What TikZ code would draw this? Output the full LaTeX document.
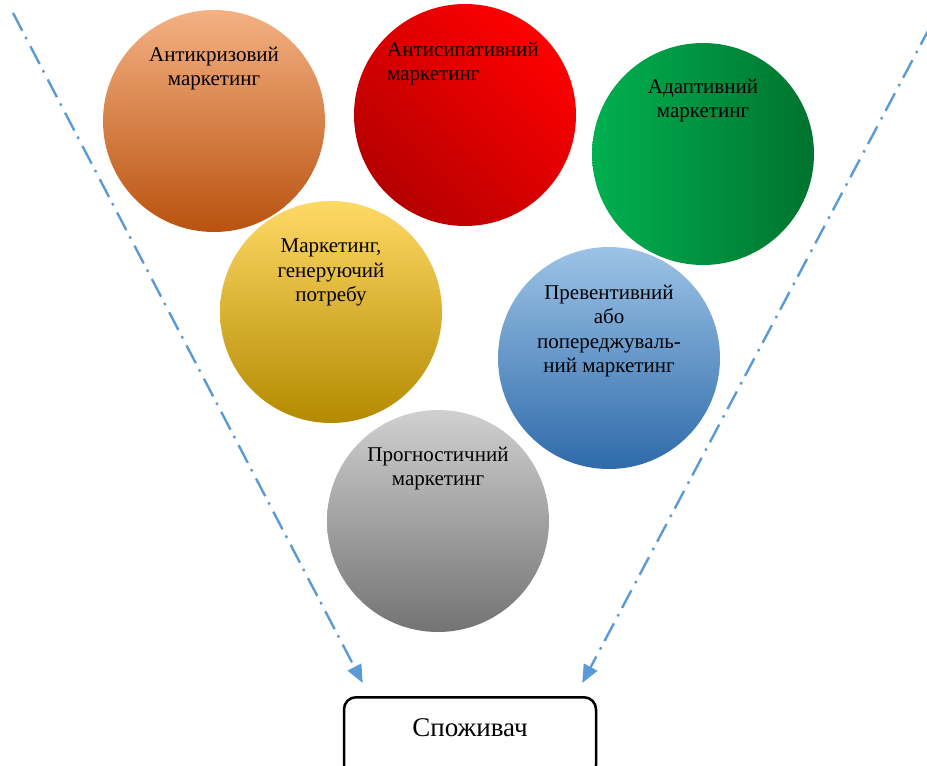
\documentclass[tikz,border=0pt]{standalone}
\usepackage{fontspec}
\setmainfont{Liberation Serif}
\usetikzlibrary{positioning, arrows.meta}
\definecolor{orangeT}{HTML}{F4B183}
\definecolor{orangeM}{HTML}{ED7D31}
\definecolor{orangeB}{HTML}{B9520F}
\definecolor{redB}{HTML}{FF0000}
\definecolor{redD}{HTML}{B50000}
\definecolor{greenL}{HTML}{00B050}
\definecolor{greenD}{HTML}{00732E}
\definecolor{yellowT}{HTML}{FFD966}
\definecolor{yellowM}{HTML}{FFC000}
\definecolor{yellowB}{HTML}{B38A00}
\definecolor{blueT}{HTML}{9DC3E6}
\definecolor{blueM}{HTML}{5B9BD5}
\definecolor{blueB}{HTML}{2E6BAA}
\definecolor{greyT}{HTML}{D0D0D0}
\definecolor{greyB}{HTML}{737373}
\definecolor{lineblue}{HTML}{5B9BD5}
\tikzset{bubble/.style={circle,minimum size=222pt,inner sep=0pt},
         bubtext/.style={align=center,inner sep=0pt,font=\fontsize{21}{24.5}\selectfont},
         funnel/.style={draw=lineblue,line width=2.4pt,dash pattern=on 20pt off 7pt on 2.5pt off 8pt,
                        -{Triangle[length=18pt,width=15pt]}},
         consumer/.style={draw,rounded corners=12pt,line width=2.5pt,minimum width=252pt,
                          minimum height=80pt,text height=19pt,text depth=21pt,
                          font=\fontsize{27}{30}\selectfont},
        }

\begin{document}
\begin{tikzpicture}[x=1pt,y=-1pt]
        \useasboundingbox (0,0) rectangle (927,766);

        \node[bubble,top color=orangeT,middle color=orangeM,bottom color=orangeB](anticr)at(214,121){};
        \node[bubble,top color=redB,bottom color=redD,shading angle=-45](antisip)at(465,115){};
        \node[bubble,left color=greenL,right color=greenD](adapt)at(703,154){};
        \node[bubble,top color=yellowT,middle color=yellowM,bottom color=yellowB](gener)at(331,312){};
        \node[bubble,top color=blueT,middle color=blueM,bottom color=blueB](prevent)at(609,358){};
        \node[bubble,top color=greyT,bottom color=greyB](prognos)at(438,521){};

        \node[bubtext,below=37pt of anticr.north](anticrT){Антикризовий\\маркетинг};
        \node[bubtext,align=left,anchor=north west](antisipT)at([shift={(-78,38)}]antisip.north){Антисипативний\\маркетинг};
        \node[bubtext,below=36pt of adapt.north](adaptT){Адаптивний\\маркетинг};
        \node[bubtext,below=38pt of gener.north](generT){Маркетинг,\\генеруючий\\потребу};
        \node[bubtext,below=38pt of prevent.north](preventT){Превентивний\\або\\попереджуваль-\\ний маркетинг};
        \node[bubtext,below=37pt of prognos.north](prognosT){Прогностичний\\маркетинг};

        \node[consumer,anchor=north](cons)at(470,696){Споживач};

        \coordinate(lstart)at(13,13);
        \coordinate(rstart)at(930,27);
        \coordinate(ltip)at([shift={(20,-13)}]cons.north west);
        \coordinate(rtip)at([shift={(-15,-13)}]cons.north east);

        \draw[funnel](lstart)--(ltip);
        \draw[funnel](rstart)--(rtip);
    \end{tikzpicture}
\end{document}
